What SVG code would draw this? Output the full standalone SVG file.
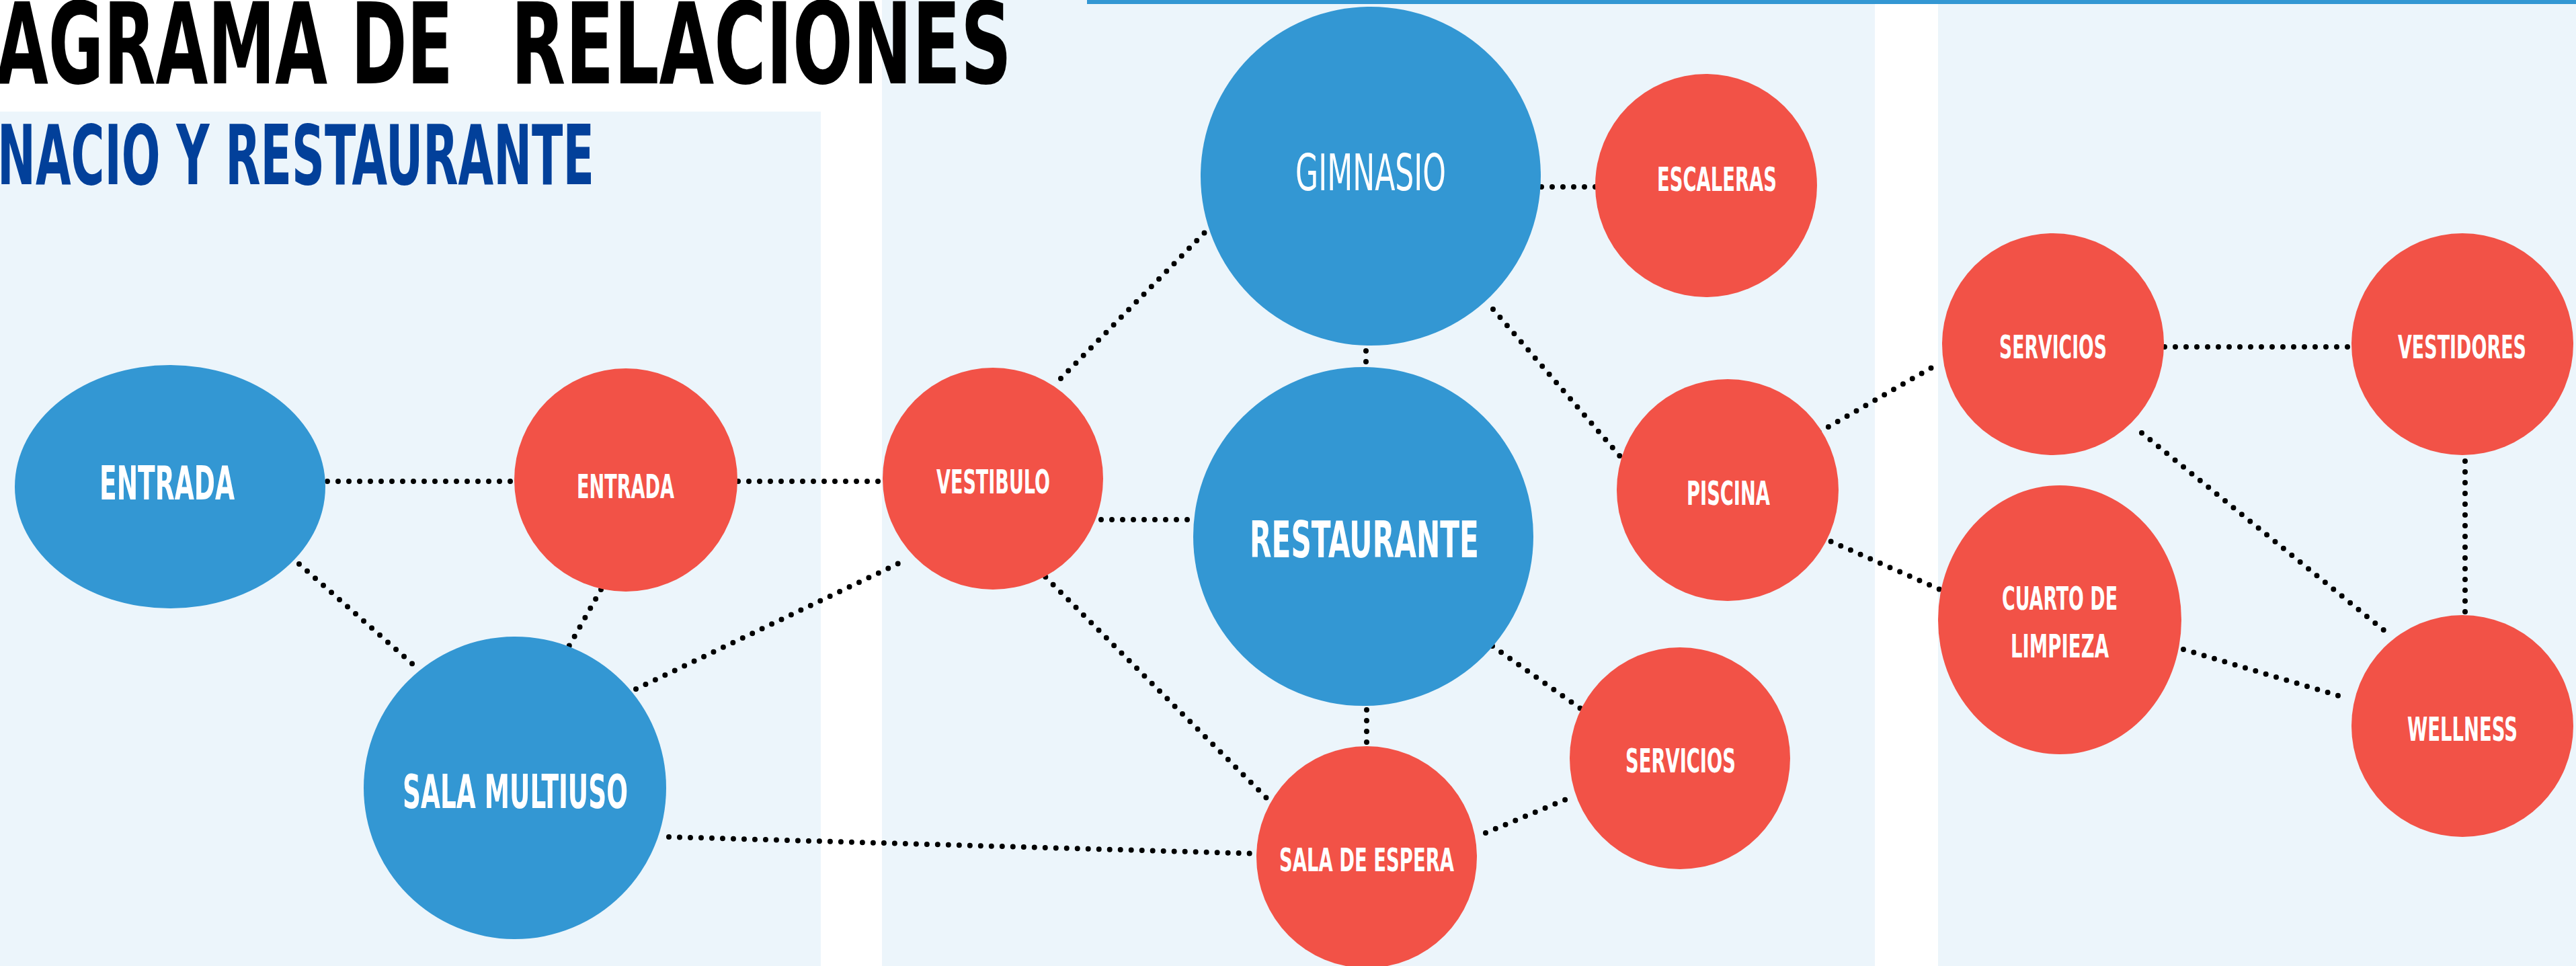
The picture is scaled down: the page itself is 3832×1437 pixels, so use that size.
<svg xmlns="http://www.w3.org/2000/svg" width="3832" height="1437" viewBox="0 0 3832 1437">
<style>
.panel{fill:#ECF5FB}
.blue{fill:#3397D3}
.red{fill:#F25247}
.lbl{font-family:"DejaVu Sans Condensed","DejaVu Sans","Liberation Sans",sans-serif;font-weight:bold;fill:#FFFFFF;font-stretch:condensed}
.thin{font-weight:normal}
.title{font-family:"DejaVu Sans Condensed","DejaVu Sans","Liberation Sans",sans-serif;font-weight:bold;font-stretch:condensed;fill:#000000}
.sub{font-family:"DejaVu Sans Condensed","DejaVu Sans","Liberation Sans",sans-serif;font-weight:bold;font-stretch:condensed;fill:#02409A}
.con line{stroke:#000000;stroke-width:8;stroke-linecap:round;stroke-dasharray:0 16;fill:none}
</style>
<rect width="3832" height="1437" fill="#FFFFFF"/>
<g id="background">
<rect class="panel" x="0" y="166" width="1221" height="1271"/>
<rect class="panel" x="1312" y="0" width="1477" height="1437"/>
<rect class="panel" x="2883" y="0" width="949" height="1437"/>
<rect x="1617" y="0" width="2215" height="6" fill="#3397D3"/>
</g>
<g id="titles">
<text class="title" x="-6" y="124" font-size="168" textLength="680" lengthAdjust="spacingAndGlyphs">AGRAMA DE</text>
<text class="title" x="760" y="124" font-size="168" textLength="745" lengthAdjust="spacingAndGlyphs">RELACIONES</text>
<text class="sub" x="-4" y="274" font-size="123" textLength="888" lengthAdjust="spacingAndGlyphs">NACIO Y RESTAURANTE</text>
</g>
<g id="connectors" class="con">
<line x1="487" y1="716" x2="763" y2="716"/>
<line x1="1098" y1="716" x2="1311" y2="716"/>
<line x1="445" y1="839" x2="614" y2="988"/>
<line x1="894" y1="877" x2="846" y2="962"/>
<line x1="946" y1="1025" x2="1339" y2="837"/>
<line x1="995" y1="1245" x2="1874" y2="1270"/>
<line x1="1578" y1="563" x2="1796" y2="342"/>
<line x1="1622" y1="773" x2="1781" y2="773"/>
<line x1="1544" y1="847" x2="1885" y2="1188"/>
<line x1="2293" y1="278" x2="2386" y2="278"/>
<line x1="2032" y1="522" x2="2032" y2="542"/>
<line x1="2221" y1="460" x2="2411" y2="680"/>
<line x1="2033" y1="1056" x2="2033" y2="1106"/>
<line x1="2220" y1="961" x2="2351" y2="1054"/>
<line x1="2210" y1="1239" x2="2332" y2="1188"/>
<line x1="2706" y1="643" x2="2875" y2="546"/>
<line x1="2709" y1="799" x2="2886" y2="877"/>
<line x1="3220" y1="516" x2="3494" y2="516"/>
<line x1="3186" y1="644" x2="3548" y2="939"/>
<line x1="3667" y1="686" x2="3667" y2="928"/>
<line x1="3248" y1="966" x2="3479" y2="1035"/>
</g>
<g id="n-entrada">
<ellipse class="blue" cx="253" cy="724" rx="231" ry="181"/>
<text class="lbl" x="148" y="743" font-size="70" textLength="201" lengthAdjust="spacingAndGlyphs">ENTRADA</text>
</g>
<g id="n-entrada2">
<ellipse class="red" cx="931" cy="714" rx="166" ry="166"/>
<text class="lbl" x="858" y="741" font-size="50" textLength="145" lengthAdjust="spacingAndGlyphs">ENTRADA</text>
</g>
<g id="n-sala-multiuso">
<ellipse class="blue" cx="766" cy="1172" rx="225" ry="225"/>
<text class="lbl" x="599" y="1202" font-size="70" textLength="335" lengthAdjust="spacingAndGlyphs">SALA MULTIUSO</text>
</g>
<g id="n-vestibulo">
<ellipse class="red" cx="1477" cy="712" rx="164" ry="165"/>
<text class="lbl" x="1393" y="734" font-size="49" textLength="169" lengthAdjust="spacingAndGlyphs">VESTIBULO</text>
</g>
<g id="n-gimnasio">
<ellipse class="blue" cx="2039" cy="262" rx="253" ry="252"/>
<text class="lbl thin" x="1927" y="283" font-size="75" textLength="224" lengthAdjust="spacingAndGlyphs">GIMNASIO</text>
</g>
<g id="n-restaurante">
<ellipse class="blue" cx="2028" cy="798" rx="253" ry="252"/>
<text class="lbl" x="1859" y="829" font-size="74" textLength="341" lengthAdjust="spacingAndGlyphs">RESTAURANTE</text>
</g>
<g id="n-escaleras">
<ellipse class="red" cx="2538" cy="276" rx="165" ry="166"/>
<text class="lbl" x="2465" y="284" font-size="49" textLength="178" lengthAdjust="spacingAndGlyphs">ESCALERAS</text>
</g>
<g id="n-piscina">
<ellipse class="red" cx="2570" cy="729" rx="165" ry="165"/>
<text class="lbl" x="2509" y="751" font-size="50" textLength="124" lengthAdjust="spacingAndGlyphs">PISCINA</text>
</g>
<g id="n-servicios2">
<ellipse class="red" cx="2499" cy="1128" rx="164" ry="165"/>
<text class="lbl" x="2418" y="1149" font-size="49" textLength="164" lengthAdjust="spacingAndGlyphs">SERVICIOS</text>
</g>
<g id="n-sala-espera">
<ellipse class="red" cx="2033" cy="1275" rx="164" ry="165"/>
<text class="lbl" x="1903" y="1296" font-size="48" textLength="260" lengthAdjust="spacingAndGlyphs">SALA DE ESPERA</text>
</g>
<g id="n-servicios">
<ellipse class="red" cx="3054" cy="512" rx="165" ry="165"/>
<text class="lbl" x="2974" y="533" font-size="48" textLength="160" lengthAdjust="spacingAndGlyphs">SERVICIOS</text>
</g>
<g id="n-vestidores">
<ellipse class="red" cx="3663" cy="512" rx="165" ry="165"/>
<text class="lbl" x="3567" y="533" font-size="48" textLength="191" lengthAdjust="spacingAndGlyphs">VESTIDORES</text>
</g>
<g id="n-cuarto">
<ellipse class="red" cx="3064" cy="922" rx="181" ry="200"/>
<text class="lbl" x="2978" y="907" font-size="48" textLength="172" lengthAdjust="spacingAndGlyphs">CUARTO DE</text>
<text class="lbl" x="2991" y="978" font-size="48" textLength="146" lengthAdjust="spacingAndGlyphs">LIMPIEZA</text>
</g>
<g id="n-wellness">
<ellipse class="red" cx="3663" cy="1080" rx="165" ry="165"/>
<text class="lbl" x="3581" y="1102" font-size="50" textLength="164" lengthAdjust="spacingAndGlyphs">WELLNESS</text>
</g>
</svg>
